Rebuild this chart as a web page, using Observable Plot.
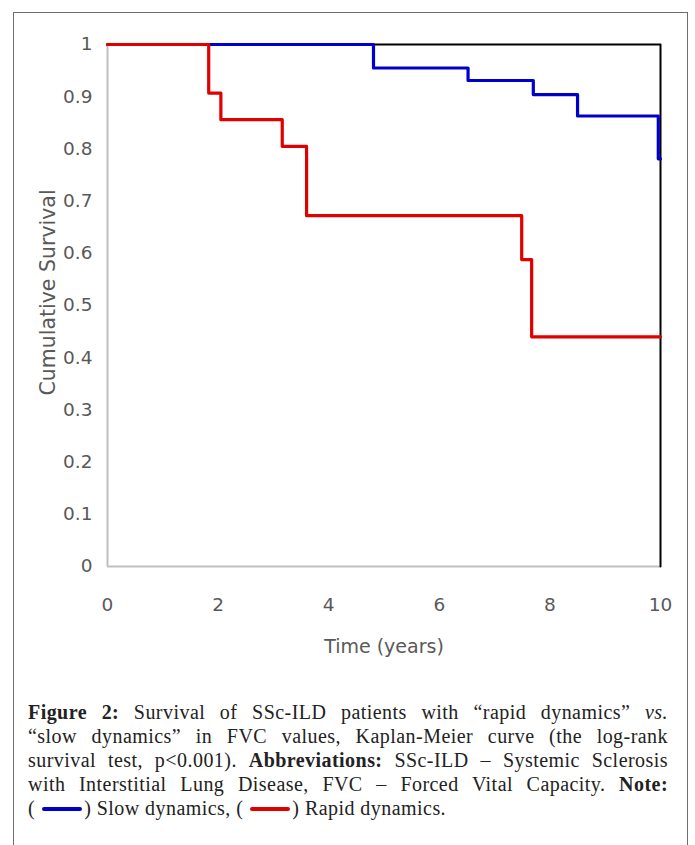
<!DOCTYPE html>
<html>
<head>
<meta charset="utf-8">
<script src="https://cdn.jsdelivr.net/npm/d3@7"></script>
<script src="https://cdn.jsdelivr.net/npm/@observablehq/plot@0.6"></script>
<style>
  html, body { margin: 0; padding: 0; background: #fff; width: 695px; height: 845px; overflow: hidden; }
  #frame { position: absolute; left: 13px; top: 12px; width: 675px; height: 900px; border: 1px solid #6e6e6e; box-sizing: border-box; }
  #chart { position: absolute; left: 0; top: 0; }
  #caption { position: absolute; left: 28px; top: 700px; width: 640px; font-family: "Liberation Serif", "DejaVu Serif", serif; font-size: 20px; letter-spacing: 0.45px; line-height: 24px; color: #222; }
  #caption .ln { text-align: justify; text-align-last: justify; white-space: nowrap; }
  #caption .ln.last { text-align-last: left; }
  .sw { display: inline-block; width: 40px; height: 4px; border-radius: 2px; vertical-align: middle; margin: 0 2px 3px 7px; }
</style>
</head>
<body>
<div id="frame"></div>
<div id="chart"></div>
<div id="caption">
<div class="ln"><b>Figure 2:</b> Survival of SSc-ILD patients with “rapid dynamics” <i>vs.</i></div>
<div class="ln">“slow dynamics” in FVC values, Kaplan-Meier curve (the log-rank</div>
<div class="ln">survival test, p&lt;0.001). <b>Abbreviations:</b> SSc-ILD – Systemic Sclerosis</div>
<div class="ln">with Interstitial Lung Disease, FVC – Forced Vital Capacity. <b>Note:</b></div>
<div class="ln last">(<span class="sw" style="background:#0000cc"></span>) Slow dynamics, (<span class="sw" style="background:#e00000"></span>) Rapid dynamics.</div>
</div>
<script>
// Data
const slowTime = [0, 4.81, 6.52, 7.70, 8.50, 9.96, 10];
const slowSurv = [1, 0.955, 0.931, 0.904, 0.863, 0.781, 0.781];
const rapidTime = [0, 1.83, 2.05, 3.16, 3.60, 7.49, 7.67, 10];
const rapidSurv = [1, 0.907, 0.856, 0.805, 0.672, 0.588, 0.44, 0.44];
const xTicks = [0, 2, 4, 6, 8, 10];
const yTicks = [0, 0.1, 0.2, 0.3, 0.4, 0.5, 0.6, 0.7, 0.8, 0.9, 1];
const xTitle = "Time (years)";
const yTitle = "Cumulative Survival";

const slow = slowTime.map((t, i) => ({t, s: slowSurv[i]}));
const rapid = rapidTime.map((t, i) => ({t, s: rapidSurv[i]}));
const frameLine = [{t: 0, s: 1}, {t: 10, s: 1}, {t: 10, s: 0}];

const tickFont = "'DejaVu Sans', sans-serif";

const chart = Plot.plot({
  width: 695,
  height: 680,
  marginLeft: 107,
  marginRight: 35,
  marginTop: 44,
  marginBottom: 114,
  style: {fontFamily: tickFont, fontSize: "19px", color: "#595959", background: "transparent", overflow: "visible"},
  x: {domain: [0, 10], ticks: xTicks, tickFormat: d => String(d)},
  y: {domain: [0, 1], ticks: yTicks, tickFormat: d => String(d)},
  marks: [
    Plot.axisY({ticks: yTicks, tickSize: 0, tickPadding: 15, label: null, tickFormat: d => String(d), fontSize: 18.5}),
    Plot.axisX({ticks: xTicks, tickSize: 0, tickPadding: 31, label: null, tickFormat: d => String(d), fontSize: 18.5}),
    Plot.ruleX([0], {stroke: "#bfbfbf", strokeWidth: 2}),
    Plot.ruleY([0], {stroke: "#bfbfbf", strokeWidth: 2}),
    Plot.line(frameLine, {x: "t", y: "s", stroke: "#000", strokeWidth: 2}),
    Plot.line(slow, {x: "t", y: "s", curve: "step-after", stroke: "#0000cc", strokeWidth: 3.2}),
    Plot.line(rapid, {x: "t", y: "s", curve: "step-after", stroke: "#e00000", strokeWidth: 3.2}),
    Plot.text([xTitle], {frameAnchor: "bottom", dy: 86, text: d => d, fontSize: 19, fill: "#595959", fontFamily: tickFont}),
    Plot.text([yTitle], {frameAnchor: "left", dx: -59, dy: -13, rotate: -90, textAnchor: "middle", text: d => d, fontSize: 20.5, fill: "#595959", fontFamily: "'DejaVu Sans', Verdana, sans-serif"})
  ]
});
document.getElementById("chart").appendChild(chart);
</script>
</body>
</html>
